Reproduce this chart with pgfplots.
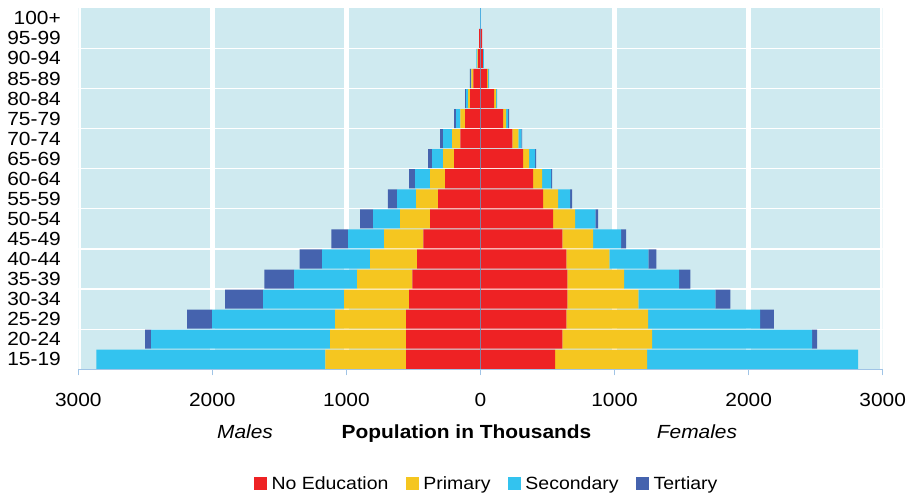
\documentclass[border=0pt]{standalone}
\usepackage{fontspec}
\setmainfont{Liberation Sans}[FakeStretch=1.1]
\usepackage{pgfplots}
\usepackage{pgfplotstable}
\pgfplotsset{compat=1.18}
\definecolor{cNoEd}{RGB}{238,34,36}
\definecolor{cPrim}{RGB}{245,198,32}
\definecolor{cSec}{RGB}{51,195,239}
\definecolor{cTer}{RGB}{69,99,174}
\definecolor{cBg}{RGB}{207,234,240}
\definecolor{cAxis}{RGB}{160,196,230}
\definecolor{cCenter}{RGB}{80,175,225}
\newcommand{\fs}{\fontsize{19bp}{22bp}\selectfont}
\newcommand{\fl}{\fontsize{17.7bp}{20bp}\selectfont}
\pgfplotsset{
  sqlegend/.style={legend image code/.code={\fill[##1] (0bp,-6.5bp) rectangle (13bp,6.5bp);}},
  pyr/.style={at={(0,0)}, anchor=south west,
    scale only axis, width=804.4bp, height=361bp,
    xmin=-3000, xmax=3000, ymin=-0.5, ymax=17.5},
}

\pgfplotstableread{
idx noed prim sec ter
0 -554 -604 -1708 0
1 -554 -567 -1335 -45
2 -554 -530 -917 -187
3 -532 -485 -604 -284
4 -509 -411 -470 -223
5 -472 -351 -358 -169
6 -427 -291 -269 -126
7 -375 -224 -201 -97
8 -316 -164 -141 -69
9 -263 -112 -112 -45
10 -196 -82 -82 -30
11 -151 -60 -67 -23
12 -114 -37 -30 -15
13 -77 -15 -15 -7
14 -54 -15 -3 -7
15 -17 -7 -7 0
16 -10 0 0 0
17 0 0 0 0
}\males

\pgfplotstableread{
idx noed prim sec ter
0 557 686 1573 0
1 610 671 1193 37
2 640 610 836 103
3 647 530 574 112
4 647 425 410 83
5 640 322 291 59
6 610 230 209 38
7 542 164 150 22
8 467 112 90 15
9 392 67 68 8
10 318 45 45 7
11 237 45 22 7
12 169 22 15 7
13 102 15 7 0
14 50 7 7 0
15 18 0 7 0
16 12 0 0 0
17 0 0 0 0
}\females

\begin{document}
\begin{tikzpicture}
\useasboundingbox (-78.3bp,-127.7bp) rectangle (831.7bp,369.3bp);
% frame: background, grid, ticks and labels
\begin{axis}[pyr,
  axis background/.style={fill=cBg},
  axis lines*=left,
  x axis line style={draw=cAxis, line width=1bp},
  y axis line style={draw=none},
  xtick={-3000,-2000,-1000,0,1000,2000,3000},
  xticklabels={3000,2000,1000,0,1000,2000,3000},
  ytick={0,...,17},
  yticklabels={15-19,20-24,25-29,30-34,35-39,40-44,45-49,50-54,55-59,60-64,65-69,70-74,75-79,80-84,85-89,90-94,95-99,100+},
  tick align=outside,
  major tick length=6bp,
  xtick style={draw=cAxis, line width=1bp},
  ytick style={draw=none},
  /pgf/number format/assume math mode=true,
  tick label style={font=\fs},
  yticklabel style={anchor=east, inner sep=0pt, xshift=-11.3bp},
  xticklabel style={anchor=base, inner sep=0pt, yshift=-31.4bp},
]
\draw[white, line width=4.5bp] (axis cs:-3000,-0.5) -- (axis cs:-3000,17.5);
\draw[white, line width=4.5bp] (axis cs:-2000,-0.5) -- (axis cs:-2000,17.5);
\draw[white, line width=4.5bp] (axis cs:-1000,-0.5) -- (axis cs:-1000,17.5);
\draw[white, line width=4.5bp] (axis cs:1000,-0.5) -- (axis cs:1000,17.5);
\draw[white, line width=4.5bp] (axis cs:2000,-0.5) -- (axis cs:2000,17.5);
\draw[white, line width=4.5bp] (axis cs:3000,-0.5) -- (axis cs:3000,17.5);
\draw[white, line width=1.2bp] (axis cs:-3000,1.5) -- (axis cs:3000,1.5);
\draw[white, line width=1.2bp] (axis cs:-3000,3.5) -- (axis cs:3000,3.5);
\draw[white, line width=1.2bp] (axis cs:-3000,5.5) -- (axis cs:3000,5.5);
\draw[white, line width=1.2bp] (axis cs:-3000,7.5) -- (axis cs:3000,7.5);
\draw[white, line width=1.2bp] (axis cs:-3000,9.5) -- (axis cs:3000,9.5);
\draw[white, line width=1.2bp] (axis cs:-3000,11.5) -- (axis cs:3000,11.5);
\draw[white, line width=1.2bp] (axis cs:-3000,13.5) -- (axis cs:3000,13.5);
\draw[white, line width=1.2bp] (axis cs:-3000,15.5) -- (axis cs:3000,15.5);
\end{axis}
% males
\begin{axis}[pyr, hide axis,
  xbar stacked, bar width=0.95,
  legend style={at={(0.5093,-0.3177)}, anchor=center, legend columns=4, draw=none, fill=none, font=\fl,
    nodes={inner xsep=4.5bp},
    /tikz/every even column/.append style={column sep=13bp}},
]
\addplot[fill=cNoEd, draw=none, sqlegend] table[x=noed, y=idx] {\males};
\addplot[fill=cPrim, draw=none, sqlegend] table[x=prim, y=idx] {\males};
\addplot[fill=cSec, draw=none, sqlegend] table[x=sec, y=idx] {\males};
\addplot[fill=cTer, draw=none, sqlegend] table[x=ter, y=idx] {\males};
\legend{No Education, Primary, Secondary, Tertiary}
\end{axis}
% females
\begin{axis}[pyr, hide axis,
  xbar stacked, bar width=0.95,
]
\addplot[fill=cNoEd, draw=none] table[x=noed, y=idx] {\females};
\addplot[fill=cPrim, draw=none] table[x=prim, y=idx] {\females};
\addplot[fill=cSec, draw=none] table[x=sec, y=idx] {\females};
\addplot[fill=cTer, draw=none] table[x=ter, y=idx] {\females};
\draw[cCenter, line width=1.3bp] (axis cs:0,-0.5) -- (axis cs:0,17.5);
\end{axis}
\node[anchor=base, font=\fs\itshape] at (166.7bp,-69bp) {Males};
\node[anchor=base, font=\fs\bfseries] at (388.2bp,-69bp) {Population in Thousands};
\node[anchor=base, font=\fs\itshape] at (618.7bp,-69bp) {Females};
\end{tikzpicture}
\end{document}
